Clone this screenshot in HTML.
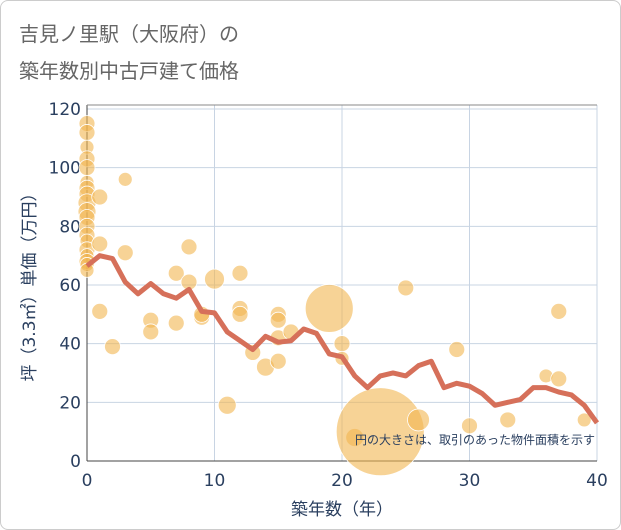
<!DOCTYPE html>
<html><head><meta charset="utf-8"><style>
body{margin:0;background:#fff;}
#wrap{width:619px;height:528px;border:1px solid #ccc;border-radius:8px;position:relative;overflow:hidden;font-family:"Liberation Sans","Noto Sans CJK JP",sans-serif;}
</style></head><body>
<div id="wrap">
<svg id="chart" width="621" height="530"></svg>
</div>
<script>
const lineX=[0,1,2,3,4,5,6,7,8,9,10,11,12,13,14,15,16,17,18,19,20,21,22,23,24,25,26,27,28,29,30,31,32,33,34,35,36,37,38,39,40];
const lineY=[66.5,70,69,61,57,60.5,57,55.5,58.5,51,50.5,44,41,38,42.5,40.5,41,45,43.5,36.5,35.5,29,25,29,30,29,32.5,34,25,26.5,25.5,23,19,20,21,25,25,23.5,22.5,19,13];
const bubX=[0,0,0,0,0,0,0,0,0,0,0,0,0,0,0,0,0,0,0,1,1,1,2,3,3,5,5,7,7,8,8,9,9,10,11,12,12,12,13,14,15,15,15,15,16,19,20,20,21,23,25,26,29,30,33,36,37,37,39];
const bubY=[115,112,107,103,100,95,93,91,88,85,83,80,77,75,72,70,68,67,65,90,74,51,39,96,71,48,44,64,47,73,61,49,50,62,19,64,52,50,37,32,50,48,42,34,44,52,40,35,8,10,59,14,38,12,14,29,51,28,14];
const bubR=[8,8,7,8,8,7,8,8,9,9,8,8,8,7,8,7,8,7,7,8,8,8,8,7,8,8,8,8,8,8,8,8,8,10,9,8,8,8,8,9,8,8,8,8,8,24,8,7,9,44,8,11,8,8,8,7,8,8,7];
const yTicks=[0,20,40,60,80,100,120];
const xTicks=[0,10,20,30,40];
const svg=document.getElementById('chart');const NS='http://www.w3.org/2000/svg';
const L=86,R=596,T=104,B=460;
const sx=v=>L+(v/40)*(R-L);
const sy=v=>460-v*(58.67/20);
const FF='"DejaVu Sans","Noto Sans CJK JP",sans-serif';
function mk(t,a,p){const e=document.createElementNS(NS,t);for(const k in a)e.setAttribute(k,a[k]);(p||svg).appendChild(e);return e;}
function txt(x,y,s,a){const e=mk('text',Object.assign({x:x,y:y,fill:'#2a3f5f','font-family':FF},a));e.textContent=s;return e;}
let t=txt(18,40,'吉見ノ里駅（大阪府）の',{'font-size':20,fill:'#666'});
t=txt(18,77,'築年数別中古戸建て価格',{'font-size':20,fill:'#666'});
let bg=mk('rect',{x:L,y:T,width:R-L,height:B-T,fill:'#fff'});
yTicks.forEach(v=>{let g=mk('line',{x1:L,x2:R,y1:sy(v),y2:sy(v),stroke:'#c8d4e3','stroke-width':1});
let l=txt(L-6,sy(v)+6,String(v),{'font-size':17,'text-anchor':'end'});});
xTicks.forEach(v=>{let g=mk('line',{x1:sx(v),x2:sx(v),y1:T,y2:B,stroke:'#c8d4e3','stroke-width':1});
let l=txt(sx(v),B+25,String(v),{'font-size':17,'text-anchor':'middle'});});
let ax=mk('line',{x1:L,x2:L,y1:T,y2:B,stroke:'#444','stroke-width':1});
ax=mk('line',{x1:L,x2:R,y1:B,y2:B,stroke:'#444','stroke-width':1});
ax=mk('line',{x1:L,x2:R,y1:T,y2:T,stroke:'#888','stroke-width':1});
bubX.forEach((x,i)=>{let c=mk('circle',{cx:sx(x),cy:sy(bubY[i]),r:bubR[i],fill:'#f2b650','fill-opacity':0.6,stroke:'#fff','stroke-width':0.8});});
let d=lineX.map((x,i)=>(i?'L':'M')+sx(x)+','+sy(lineY[i])).join('');
let p=mk('path',{d:d,fill:'none',stroke:'#d6705a','stroke-width':5,'stroke-linejoin':'round'});
t=txt(594,443,'円の大きさは、取引のあった物件面積を示す',{'font-size':12,'text-anchor':'end',fill:'#2a3f5f'});
t=txt(341,514,'築年数（年）',{'font-size':17,'text-anchor':'middle'});
t=txt(0,0,'坪（3.3㎡）単価（万円）',{'font-size':17,'text-anchor':'middle',transform:'translate(34,282) rotate(-90)'});
</script>
</body></html>
